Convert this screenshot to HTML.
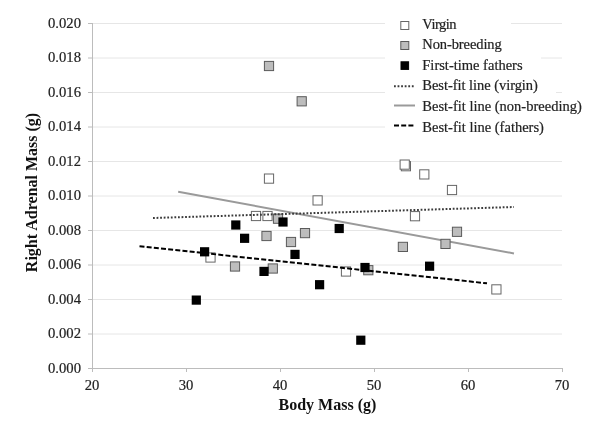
<!DOCTYPE html>
<html><head><meta charset="utf-8"><style>
html,body{margin:0;padding:0;background:#fff;width:600px;height:422px;overflow:hidden}
svg{display:block;will-change:transform}
.t{font-family:"Liberation Serif",serif;font-size:14.67px;fill:#222222;stroke:#222222;stroke-width:0.2px}
.l{font-family:"Liberation Serif",serif;font-size:14.5px;fill:#222222;stroke:#222222;stroke-width:0.2px}
.b{font-family:"Liberation Serif",serif;font-size:16px;font-weight:bold;fill:#111}
</style></head><body>
<svg width="600" height="422" viewBox="0 0 600 422">
<rect width="600" height="422" fill="#fff"/>
<line x1="92" y1="334.00" x2="562" y2="334.00" stroke="#e6e6e6" stroke-width="1"/>
<line x1="92" y1="299.50" x2="562" y2="299.50" stroke="#e6e6e6" stroke-width="1"/>
<line x1="92" y1="265.00" x2="562" y2="265.00" stroke="#e6e6e6" stroke-width="1"/>
<line x1="92" y1="230.50" x2="562" y2="230.50" stroke="#e6e6e6" stroke-width="1"/>
<line x1="92" y1="196.00" x2="562" y2="196.00" stroke="#e6e6e6" stroke-width="1"/>
<line x1="92" y1="161.50" x2="562" y2="161.50" stroke="#e6e6e6" stroke-width="1"/>
<line x1="92" y1="127.00" x2="562" y2="127.00" stroke="#e6e6e6" stroke-width="1"/>
<line x1="92" y1="92.50" x2="562" y2="92.50" stroke="#e6e6e6" stroke-width="1"/>
<line x1="92" y1="58.00" x2="562" y2="58.00" stroke="#e6e6e6" stroke-width="1"/>
<line x1="92" y1="23.50" x2="562" y2="23.50" stroke="#e6e6e6" stroke-width="1"/>
<line x1="92.5" y1="23" x2="92.5" y2="372" stroke="#bcbcbc" stroke-width="1"/>
<line x1="88" y1="368.5" x2="562" y2="368.5" stroke="#bcbcbc" stroke-width="1"/>
<line x1="88" y1="368.50" x2="92" y2="368.50" stroke="#bcbcbc" stroke-width="1"/>
<line x1="88" y1="334.00" x2="92" y2="334.00" stroke="#bcbcbc" stroke-width="1"/>
<line x1="88" y1="299.50" x2="92" y2="299.50" stroke="#bcbcbc" stroke-width="1"/>
<line x1="88" y1="265.00" x2="92" y2="265.00" stroke="#bcbcbc" stroke-width="1"/>
<line x1="88" y1="230.50" x2="92" y2="230.50" stroke="#bcbcbc" stroke-width="1"/>
<line x1="88" y1="196.00" x2="92" y2="196.00" stroke="#bcbcbc" stroke-width="1"/>
<line x1="88" y1="161.50" x2="92" y2="161.50" stroke="#bcbcbc" stroke-width="1"/>
<line x1="88" y1="127.00" x2="92" y2="127.00" stroke="#bcbcbc" stroke-width="1"/>
<line x1="88" y1="92.50" x2="92" y2="92.50" stroke="#bcbcbc" stroke-width="1"/>
<line x1="88" y1="58.00" x2="92" y2="58.00" stroke="#bcbcbc" stroke-width="1"/>
<line x1="88" y1="23.50" x2="92" y2="23.50" stroke="#bcbcbc" stroke-width="1"/>
<line x1="92.5" y1="368" x2="92.5" y2="372" stroke="#bcbcbc" stroke-width="1"/>
<line x1="186.5" y1="368" x2="186.5" y2="372" stroke="#bcbcbc" stroke-width="1"/>
<line x1="280.5" y1="368" x2="280.5" y2="372" stroke="#bcbcbc" stroke-width="1"/>
<line x1="374.5" y1="368" x2="374.5" y2="372" stroke="#bcbcbc" stroke-width="1"/>
<line x1="468.5" y1="368" x2="468.5" y2="372" stroke="#bcbcbc" stroke-width="1"/>
<line x1="562.5" y1="368" x2="562.5" y2="372" stroke="#bcbcbc" stroke-width="1"/>
<rect x="385" y="12" width="177" height="126" fill="#fff"/>
<line x1="511" y1="23.5" x2="562" y2="23.5" stroke="#e6e6e6" stroke-width="1"/>
<line x1="541" y1="58.00" x2="562" y2="58.00" stroke="#e6e6e6" stroke-width="1"/>
<line x1="556" y1="92.50" x2="562" y2="92.50" stroke="#e6e6e6" stroke-width="1"/>
<rect x="251.40" y="211.40" width="9.20" height="9.20" fill="#ffffff" stroke="#666666" stroke-width="1"/>
<rect x="262.90" y="211.40" width="9.20" height="9.20" fill="#ffffff" stroke="#666666" stroke-width="1"/>
<rect x="264.40" y="174.00" width="9.20" height="9.20" fill="#ffffff" stroke="#666666" stroke-width="1"/>
<rect x="313.00" y="195.80" width="9.20" height="9.20" fill="#ffffff" stroke="#666666" stroke-width="1"/>
<rect x="205.90" y="252.90" width="9.20" height="9.20" fill="#ffffff" stroke="#666666" stroke-width="1"/>
<rect x="341.40" y="266.90" width="9.20" height="9.20" fill="#ffffff" stroke="#666666" stroke-width="1"/>
<rect x="401.30" y="161.60" width="9.20" height="9.20" fill="#ffffff" stroke="#666666" stroke-width="1"/>
<rect x="400.10" y="160.00" width="9.20" height="9.20" fill="#ffffff" stroke="#666666" stroke-width="1"/>
<rect x="419.70" y="169.80" width="9.20" height="9.20" fill="#ffffff" stroke="#666666" stroke-width="1"/>
<rect x="447.40" y="185.40" width="9.20" height="9.20" fill="#ffffff" stroke="#666666" stroke-width="1"/>
<rect x="410.40" y="211.60" width="9.20" height="9.20" fill="#ffffff" stroke="#666666" stroke-width="1"/>
<rect x="491.80" y="284.80" width="9.20" height="9.20" fill="#ffffff" stroke="#666666" stroke-width="1"/>
<line x1="178.2" y1="191.8" x2="514" y2="253.4" stroke="#9a9a9a" stroke-width="2"/>
<rect x="264.40" y="61.40" width="9.20" height="9.20" fill="#bdbdbd" stroke="#5a5a5a" stroke-width="1"/>
<rect x="297.10" y="96.70" width="9.20" height="9.20" fill="#bdbdbd" stroke="#5a5a5a" stroke-width="1"/>
<rect x="273.40" y="214.10" width="9.20" height="9.20" fill="#bdbdbd" stroke="#5a5a5a" stroke-width="1"/>
<rect x="261.90" y="231.40" width="9.20" height="9.20" fill="#bdbdbd" stroke="#5a5a5a" stroke-width="1"/>
<rect x="300.40" y="228.50" width="9.20" height="9.20" fill="#bdbdbd" stroke="#5a5a5a" stroke-width="1"/>
<rect x="286.40" y="237.40" width="9.20" height="9.20" fill="#bdbdbd" stroke="#5a5a5a" stroke-width="1"/>
<rect x="268.20" y="263.90" width="9.20" height="9.20" fill="#bdbdbd" stroke="#5a5a5a" stroke-width="1"/>
<rect x="230.40" y="261.90" width="9.20" height="9.20" fill="#bdbdbd" stroke="#5a5a5a" stroke-width="1"/>
<rect x="363.70" y="265.60" width="9.20" height="9.20" fill="#bdbdbd" stroke="#5a5a5a" stroke-width="1"/>
<rect x="398.30" y="242.30" width="9.20" height="9.20" fill="#bdbdbd" stroke="#5a5a5a" stroke-width="1"/>
<rect x="440.90" y="239.30" width="9.20" height="9.20" fill="#bdbdbd" stroke="#5a5a5a" stroke-width="1"/>
<rect x="452.40" y="227.20" width="9.20" height="9.20" fill="#bdbdbd" stroke="#5a5a5a" stroke-width="1"/>
<rect x="278.40" y="217.40" width="9.2" height="9.2" fill="#000"/>
<rect x="231.20" y="220.40" width="9.2" height="9.2" fill="#000"/>
<rect x="240.00" y="233.70" width="9.2" height="9.2" fill="#000"/>
<rect x="200.00" y="247.20" width="9.2" height="9.2" fill="#000"/>
<rect x="290.40" y="249.80" width="9.2" height="9.2" fill="#000"/>
<rect x="334.60" y="223.90" width="9.2" height="9.2" fill="#000"/>
<rect x="259.40" y="266.80" width="9.2" height="9.2" fill="#000"/>
<rect x="315.00" y="280.10" width="9.2" height="9.2" fill="#000"/>
<rect x="360.40" y="262.90" width="9.2" height="9.2" fill="#000"/>
<rect x="425.00" y="261.60" width="9.2" height="9.2" fill="#000"/>
<rect x="191.70" y="295.50" width="9.2" height="9.2" fill="#000"/>
<rect x="356.20" y="335.60" width="9.2" height="9.2" fill="#000"/>
<line x1="153" y1="218" x2="514" y2="207" stroke="#3a3a3a" stroke-width="2" stroke-dasharray="1.8 1.77"/>
<line x1="139.5" y1="246.2" x2="487" y2="283.3" stroke="#000" stroke-width="2" stroke-dasharray="5 2.2"/>
<rect x="400.80" y="21.50" width="8.00" height="8.00" fill="#ffffff" stroke="#666666" stroke-width="1"/>
<rect x="400.80" y="41.50" width="8.00" height="8.00" fill="#bdbdbd" stroke="#5a5a5a" stroke-width="1"/>
<rect x="401.00" y="61.80" width="7.60" height="7.60" fill="#000000" stroke="#000000" stroke-width="1"/>
<line x1="394" y1="86.2" x2="414" y2="86.2" stroke="#3a3a3a" stroke-width="2" stroke-dasharray="1.8 1.77"/>
<line x1="394" y1="105.5" x2="415" y2="105.5" stroke="#9a9a9a" stroke-width="2"/>
<line x1="394" y1="125.5" x2="414" y2="125.5" stroke="#000" stroke-width="2" stroke-dasharray="5 2.2"/>
<text x="81" y="372.70" text-anchor="end" class="t">0.000</text>
<text x="81" y="338.20" text-anchor="end" class="t">0.002</text>
<text x="81" y="303.70" text-anchor="end" class="t">0.004</text>
<text x="81" y="269.20" text-anchor="end" class="t">0.006</text>
<text x="81" y="234.70" text-anchor="end" class="t">0.008</text>
<text x="81" y="200.20" text-anchor="end" class="t">0.010</text>
<text x="81" y="165.70" text-anchor="end" class="t">0.012</text>
<text x="81" y="131.20" text-anchor="end" class="t">0.014</text>
<text x="81" y="96.70" text-anchor="end" class="t">0.016</text>
<text x="81" y="62.20" text-anchor="end" class="t">0.018</text>
<text x="81" y="27.70" text-anchor="end" class="t">0.020</text>
<text x="92.0" y="389.7" text-anchor="middle" class="t">20</text>
<text x="186.0" y="389.7" text-anchor="middle" class="t">30</text>
<text x="280.0" y="389.7" text-anchor="middle" class="t">40</text>
<text x="374.0" y="389.7" text-anchor="middle" class="t">50</text>
<text x="468.0" y="389.7" text-anchor="middle" class="t">60</text>
<text x="562.0" y="389.7" text-anchor="middle" class="t">70</text>
<text x="327.4" y="410.3" text-anchor="middle" class="b">Body Mass (g)</text>
<text transform="translate(37.3,192.5) rotate(-90)" x="0" y="0" text-anchor="middle" class="b">Right Adrenal Mass (g)</text>
<text x="422.3" y="29" class="l" textLength="34.3" lengthAdjust="spacing">Virgin</text>
<text x="422.3" y="49.2" class="l" textLength="79.4" lengthAdjust="spacing">Non-breeding</text>
<text x="422.3" y="69.8" class="l">First-time fathers</text>
<text x="422.3" y="90.4" class="l" textLength="115.6" lengthAdjust="spacing">Best-fit line (virgin)</text>
<text x="422.3" y="111.1" class="l">Best-fit line (non-breeding)</text>
<text x="422.3" y="131.6" class="l">Best-fit line (fathers)</text>
</svg>
</body></html>
